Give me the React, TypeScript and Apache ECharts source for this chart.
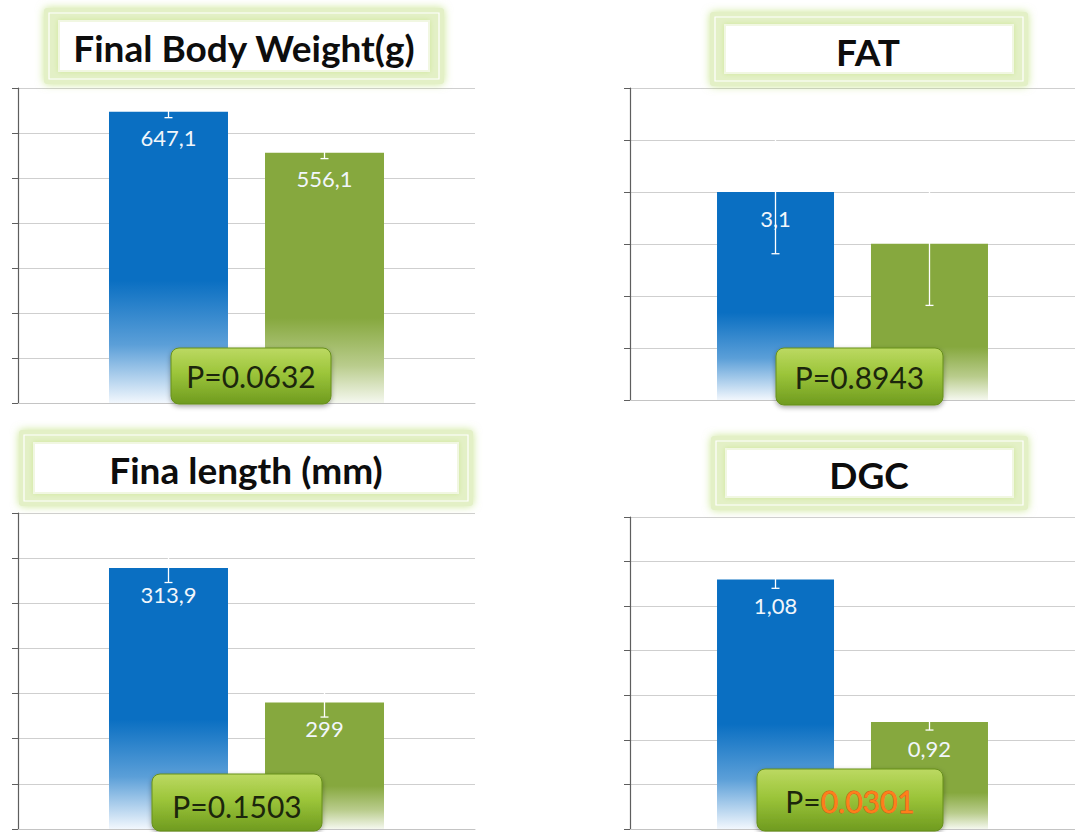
import React, { useEffect, useRef } from "react";
import * as echarts from "echarts";

// ---------- data ----------
const titles = ["Final Body Weight(g)", "FAT", "Fina length (mm)", "DGC"];
const blueValues = [647.1, 3.1, 313.9, 1.08];
const greenValues = [556.1, 2.33, 299, 0.92];
const blueErrors = [13, 0.92, 1.6, 0.01];
const greenErrors = [13, 0.92, 1.6, 0.009];
const blueLabelShown = [true, true, true, true];
const greenLabelShown = [true, false, true, true];
const pPrefix = ["P=", "P=", "P=", "P="];
const pNumbers = ["0.0632", "0.8943", "0.1503", "0.0301"];
const pSignificant = [false, false, false, true];
const axisMins = [0, 0, 285, 0.8];
const axisMaxs = [700, 4.65, 320, 1.15];
const axisIntervals = [100, 0.775, 5, 0.05];

// ---------- layout / style ----------
const grids = [
  { left: 18, top: 88, width: 457, height: 315 },
  { left: 630, top: 88, width: 449, height: 312 },
  { left: 18, top: 513, width: 457, height: 316 },
  { left: 630, top: 517, width: 449, height: 312 },
];
const barWidths = [119, 117, 119, 117];
const barGapPx = [37, 37, 37, 37];
const titleBoxes = [
  { x: 44, y: 8, w: 400, h: 76 },
  { x: 710, y: 12, w: 318, h: 74 },
  { x: 19, y: 430, w: 454, h: 76 },
  { x: 711, y: 436, w: 317, h: 74 },
];
const titleCenters = [
  { x: 244, y: 47 },
  { x: 868, y: 51 },
  { x: 246, y: 469 },
  { x: 869, y: 474 },
];
const pBoxes = [
  { x: 171, y: 348, w: 160, h: 56 },
  { x: 776, y: 348, w: 167, h: 57 },
  { x: 152, y: 774, w: 170, h: 57 },
  { x: 757, y: 769, w: 186, h: 62 },
];

const BLUE = "#0a6fc2";
const GREEN = "#86a83e";

const fmt = (v: number) => String(v).replace(".", ",");

function buildOption() {
  const grid: any[] = [];
  const xAxis: any[] = [];
  const yAxis: any[] = [];
  const series: any[] = [];
  const graphic: any[] = [];

  for (let i = 0; i < 4; i++) {
    grid.push({ ...grids[i], containLabel: false });
    xAxis.push({
      type: "category",
      gridIndex: i,
      data: [""],
      axisLine: { show: true, lineStyle: { color: "#c4c4c4", width: 1 } },
      axisTick: { show: false },
      axisLabel: { show: false },
      splitLine: { show: false },
    });
    yAxis.push({
      type: "value",
      gridIndex: i,
      min: axisMins[i],
      max: axisMaxs[i],
      interval: axisIntervals[i],
      axisLine: { show: true, lineStyle: { color: "#5e5e5e", width: 1.2 } },
      axisTick: { show: true, inside: false, length: 6, lineStyle: { color: "#5e5e5e" } },
      axisLabel: { show: false },
      splitLine: { show: true, lineStyle: { color: "#cfcfcf", width: 1 } },
    });

    const gapPct = ((barGapPx[i] / barWidths[i]) * 100).toFixed(1) + "%";
    const labelBase = {
      show: true,
      position: "insideTop",
      distance: 15,
      color: "#f1f6fb",
      fontSize: 22,
      fontFamily: "Lato",
      formatter: (p: any) => fmt(p.value),
    };
    const blueGrad = new echarts.graphic.LinearGradient(0, 0, 0, 1, [
      { offset: 0, color: BLUE },
      { offset: 0.58, color: BLUE },
      { offset: 0.8, color: "#5b9fd8" },
      { offset: 1, color: "#f2f7fd" },
    ]);
    const greenGrad = new echarts.graphic.LinearGradient(0, 0, 0, 1, [
      { offset: 0, color: GREEN },
      { offset: 0.66, color: GREEN },
      { offset: 0.85, color: "#b9cc8c" },
      { offset: 1, color: "#f5f8ef" },
    ]);
    series.push({
      type: "bar",
      name: "blue" + i,
      xAxisIndex: i,
      yAxisIndex: i,
      barWidth: barWidths[i],
      barGap: gapPct,
      data: [{ value: blueValues[i], label: { show: blueLabelShown[i] } }],
      itemStyle: { color: blueGrad },
      label: labelBase,
      z: 2,
    });
    series.push({
      type: "bar",
      name: "green" + i,
      xAxisIndex: i,
      yAxisIndex: i,
      barWidth: barWidths[i],
      barGap: gapPct,
      data: [{ value: greenValues[i], label: { show: greenLabelShown[i] } }],
      itemStyle: { color: greenGrad },
      label: labelBase,
      z: 2,
    });
    const half = (barWidths[i] + barGapPx[i]) / 2;
    series.push({
      type: "custom",
      xAxisIndex: i,
      yAxisIndex: i,
      silent: true,
      z: 4,
      data: [
        [0, blueValues[i], blueErrors[i], -1],
        [0, greenValues[i], greenErrors[i], 1],
      ],
      encode: { x: 0, y: 1 },
      renderItem: (params: any, api: any) => {
        const v = api.value(1);
        const e = api.value(2);
        const side = api.value(3);
        const cx = api.coord([0, v])[0] + side * half;
        const yTop = api.coord([0, v + e])[1];
        const yBot = api.coord([0, v - e])[1];
        const st = { stroke: "#ffffff", lineWidth: 1.3 };
        return {
          type: "group",
          children: [
            { type: "line", shape: { x1: cx, y1: yTop, x2: cx, y2: yBot }, style: st },
            { type: "line", shape: { x1: cx - 4, y1: yTop, x2: cx + 4, y2: yTop }, style: st },
            { type: "line", shape: { x1: cx - 4, y1: yBot, x2: cx + 4, y2: yBot }, style: st },
          ],
        };
      },
    });

    // title box
    const tb = titleBoxes[i];
    graphic.push({
      type: "rect",
      shape: { x: tb.x, y: tb.y, width: tb.w, height: tb.h, r: 3 },
      style: {
        fill: "#e3f0c6",
        shadowBlur: 8,
        shadowColor: "rgba(180,218,100,0.7)",
      },
      z: 10,
    });
    graphic.push({
      type: "rect",
      shape: { x: tb.x + 5, y: tb.y + 5, width: tb.w - 10, height: tb.h - 10 },
      style: { fill: "none", stroke: "#ffffff", lineWidth: 1.2 },
      z: 11,
    });
    graphic.push({
      type: "rect",
      shape: { x: tb.x + 15, y: tb.y + 13, width: tb.w - 30, height: tb.h - 26 },
      style: { fill: "#ffffff", stroke: "#f1f7e2", lineWidth: 2, shadowBlur: 5, shadowColor: "rgba(205,230,150,0.9)" },
      z: 11,
    });
    graphic.push({
      type: "text",
      x: titleCenters[i].x,
      y: titleCenters[i].y,
      style: {
        text: titles[i],
        fill: "#0d0d0d",
        font: "bold 37px Lato",
        align: "center",
        verticalAlign: "middle",
      },
      z: 12,
    });

    // P box
    const pb = pBoxes[i];
    graphic.push({
      type: "rect",
      shape: { x: pb.x, y: pb.y, width: pb.w, height: pb.h, r: 8 },
      style: {
        fill: new echarts.graphic.LinearGradient(0, 0, 0, 1, [
          { offset: 0, color: "#bcd962" },
          { offset: 0.45, color: "#9cc53a" },
          { offset: 1, color: "#6f9b1f" },
        ]),
        stroke: "#678f1c",
        lineWidth: 1,
        shadowBlur: 5,
        shadowOffsetY: 2,
        shadowColor: "rgba(0,0,0,0.35)",
      },
      z: 20,
    });
    const pText = pSignificant[i]
      ? `{a|${pPrefix[i]}}{b|${pNumbers[i]}}`
      : `{a|${pPrefix[i]}${pNumbers[i]}}`;
    graphic.push({
      type: "text",
      x: pb.x + pb.w / 2,
      y: i === 0 || i === 1 ? pb.y + pb.h / 2 : pb.y + 32,
      style: {
        text: pText,
        align: "center",
        verticalAlign: "middle",
        rich: {
          a: { fontSize: 30, fontFamily: "Lato", fill: "#1c260c" },
          b: {
            fontSize: 30,
            fontFamily: "Lato",
            fill: "#ff7f1a",
            stroke: "#d9541c",
            lineWidth: 0.8,
          },
        },
      },
      z: 21,
    });
  }

  return {
    animation: false,
    backgroundColor: "#ffffff",
    grid,
    xAxis,
    yAxis,
    series,
    graphic,
  };
}

export default function App() {
  const ref = useRef<HTMLDivElement>(null);
  useEffect(() => {
    if (!ref.current) return;
    const chart = echarts.init(ref.current, undefined, { renderer: "svg" });
    chart.setOption(buildOption() as any);
    return () => chart.dispose();
  }, []);
  return (
    <div
      ref={ref}
      style={{ position: "absolute", left: 0, top: 0, width: 1075, height: 832 }}
    />
  );
}
